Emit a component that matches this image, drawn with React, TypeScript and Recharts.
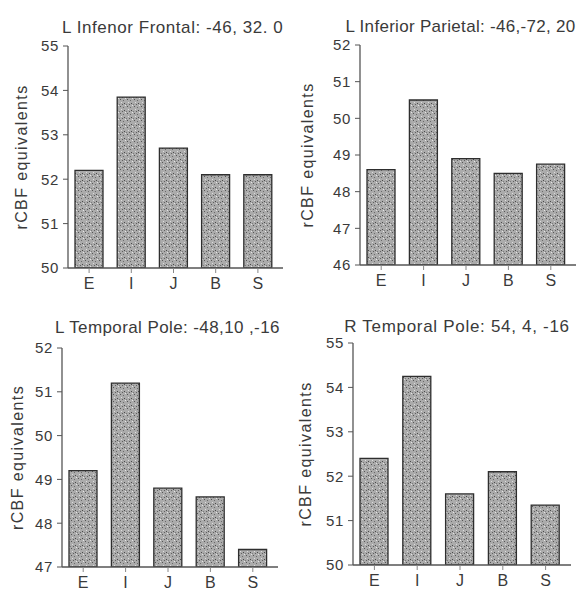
import React from 'react';
import { BarChart, Bar, XAxis, YAxis } from 'recharts';

// regions on the x axis
const categories = ['E', 'I', 'J', 'B', 'S'];

// rCBF values
const frontalValues = [52.2, 53.85, 52.7, 52.1, 52.1];
const parietalValues = [48.6, 50.5, 48.9, 48.5, 48.75];
const leftPoleValues = [49.2, 51.2, 48.8, 48.6, 47.4];
const rightPoleValues = [52.4, 54.25, 51.6, 52.1, 51.35];

// y ticks per panel
const frontalTicks = [50, 51, 52, 53, 54, 55];
const parietalTicks = [46, 47, 48, 49, 50, 51, 52];
const leftPoleTicks = [47, 48, 49, 50, 51, 52];
const rightPoleTicks = [50, 51, 52, 53, 54, 55];

const FONT = '"Liberation Sans", Arial, sans-serif';
const INK = '#3a3a3a';

type PanelProps = {
  id: string;
  title: string;
  values: number[];
  ticks: number[];
  left: number;
  top: number;
  width: number;
  height: number;
  plotLeft: number;
  plotRight: number;
  plotTop: number;
  plotBottom: number;
  titleLeft: number;
  titleWidth: number;
  titleY: number;
  titleSpacing: number;
  labelX: number;
};

const Panel: React.FC<PanelProps> = (p) => {
  const data = categories.map((c, i) => ({ name: c, value: p.values[i] }));
  const xAxisHeight = 28;
  return (
    <div style={{ position: 'absolute', left: p.left, top: p.top, width: p.width, height: p.height }}>
      <div
        style={{
          position: 'absolute',
          left: p.titleLeft,
          width: p.titleWidth,
          top: p.titleY - 9,
          fontSize: 17,
          lineHeight: '18px',
          letterSpacing: p.titleSpacing,
          textAlign: 'center',
          color: INK,
          fontFamily: FONT,
          whiteSpace: 'nowrap',
        }}
      >
        {p.title}
      </div>
      <BarChart
        width={p.width}
        height={p.height}
        data={data}
        margin={{
          top: p.plotTop,
          right: p.width - p.plotRight,
          left: 0,
          bottom: p.height - p.plotBottom - xAxisHeight,
        }}
      >
        <defs>
          <pattern id={`stip-${p.id}`} width="7" height="7" patternUnits="userSpaceOnUse">
            <rect width="7" height="7" fill="#ababab" />
            <rect x="1" y="1" width="1" height="1" fill="#555555" />
            <rect x="4" y="2" width="1" height="1" fill="#6a6a6a" />
            <rect x="2" y="4" width="1" height="1" fill="#dddddd" />
            <rect x="5" y="5" width="1" height="1" fill="#4a4a4a" />
            <rect x="0" y="6" width="1" height="1" fill="#7a7a7a" />
            <rect x="6" y="0" width="1" height="1" fill="#e4e4e4" />
            <rect x="3" y="6" width="1" height="1" fill="#606060" />
          </pattern>
        </defs>
        <XAxis
          dataKey="name"
          height={xAxisHeight}
          axisLine={{ stroke: '#555', strokeWidth: 1.3 }}
          tickLine={{ stroke: '#888' }}
          tickSize={5}
          tickMargin={5}
          tick={{ fontSize: 16, fill: INK, fontFamily: FONT }}
          padding={{ left: 0, right: 4 }}
        />
        <YAxis
          width={p.plotLeft}
          domain={[p.ticks[0], p.ticks[p.ticks.length - 1]]}
          ticks={p.ticks}
          interval={0}
          allowDataOverflow
          axisLine={{ stroke: '#555', strokeWidth: 1.3 }}
          tickLine={{ stroke: '#555' }}
          tickSize={5}
          tickMargin={4}
          tick={{ fontSize: 15, fill: INK, fontFamily: FONT, letterSpacing: 0.6 }}
          label={{
            value: 'rCBF equivalents',
            angle: -90,
            position: 'insideLeft',
            offset: p.labelX,
            style: { textAnchor: 'middle', fontSize: 16, fill: INK, fontFamily: FONT, letterSpacing: 1.4 },
          }}
        />
        <Bar
          dataKey="value"
          barSize={28}
          fill={`url(#stip-${p.id})`}
          stroke="#2e2e2e"
          strokeWidth={1.3}
          isAnimationActive={false}
        />
      </BarChart>
    </div>
  );
};

export default function App() {
  return (
    <div style={{ position: 'absolute', left: 0, top: 0, width: 587, height: 591, background: '#fff', overflow: 'hidden' }}>
      <Panel
        id="a"
        title="L Infenor Frontal: -46, 32. 0"
        values={frontalValues}
        ticks={frontalTicks}
        left={0}
        top={0}
        width={293}
        height={295}
        plotLeft={68}
        plotRight={283}
        plotTop={46}
        plotBottom={268}
        titleLeft={62}
        titleWidth={221}
        titleY={28}
        titleSpacing={0.55}
        labelX={21}
      />
      <Panel
        id="b"
        title="L Inferior Parietal: -46,-72, 20"
        values={parietalValues}
        ticks={parietalTicks}
        left={293}
        top={0}
        width={294}
        height={295}
        plotLeft={67}
        plotRight={283}
        plotTop={45}
        plotBottom={265}
        titleLeft={52}
        titleWidth={231}
        titleY={27}
        titleSpacing={0.3}
        labelX={14}
      />
      <Panel
        id="c"
        title="L Temporal Pole: -48,10 ,-16"
        values={leftPoleValues}
        ticks={leftPoleTicks}
        left={0}
        top={295}
        width={293}
        height={296}
        plotLeft={62}
        plotRight={278}
        plotTop={53}
        plotBottom={272}
        titleLeft={55}
        titleWidth={225}
        titleY={33}
        titleSpacing={0.4}
        labelX={17}
      />
      <Panel
        id="d"
        title="R Temporal Pole: 54, 4, -16"
        values={rightPoleValues}
        ticks={rightPoleTicks}
        left={293}
        top={295}
        width={294}
        height={296}
        plotLeft={60}
        plotRight={278}
        plotTop={48}
        plotBottom={270}
        titleLeft={50}
        titleWidth={228}
        titleY={32}
        titleSpacing={0.7}
        labelX={12}
      />
    </div>
  );
}
